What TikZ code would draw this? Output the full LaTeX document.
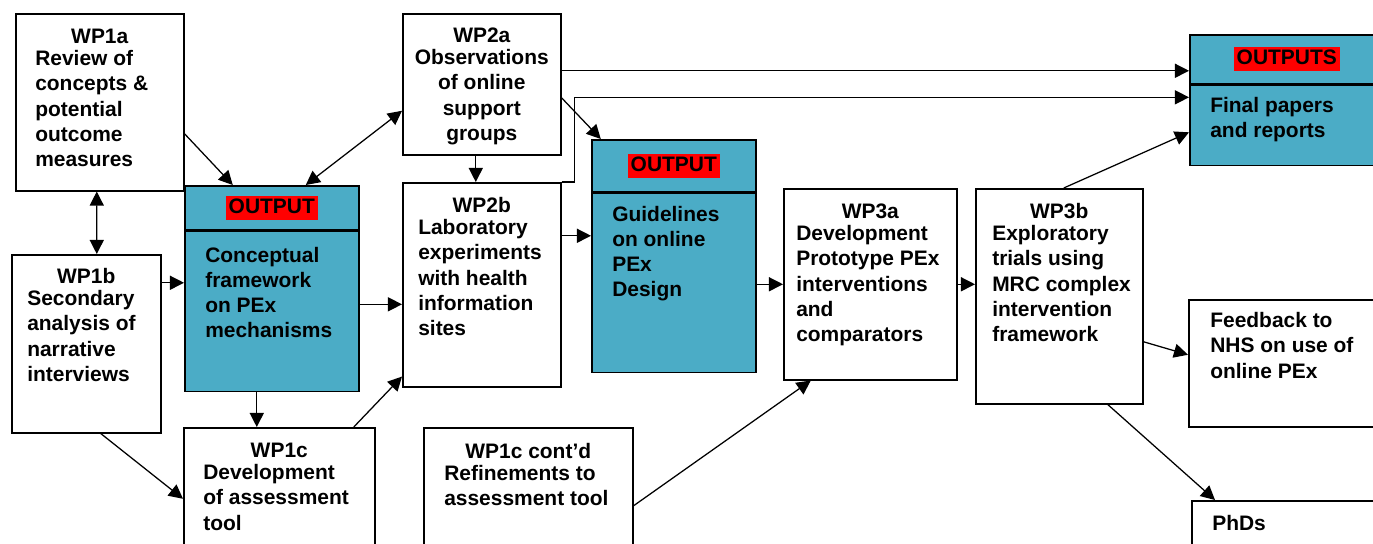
\documentclass[tikz,border=0pt]{standalone}
\usepackage{fontspec}
\setmainfont{Liberation Sans}
\usetikzlibrary{arrows.meta}
\newcommand{\pxu}{0.025cm}
\newcommand{\wpfont}{\fontsize{14.9}{17.8}\selectfont\bfseries}
\definecolor{outteal}{HTML}{4BACC6}
\tikzset{
    wpbox/.style 2 args={draw, line width=1.1pt, minimum width=#1*\pxu,
        minimum height=#2*\pxu, anchor=north west, inner sep=0pt},
    outbox/.style 2 args={wpbox={#1}{#2}, fill=outteal},
    wptitle/.style={anchor=north, inner sep=0pt, font=\wpfont,
        execute at begin node=\strut},
    wptext/.style={anchor=north west, align=left, inner sep=0pt,
        font=\wpfont, execute at begin node=\strut},
    hilite/.style={fill=red, inner xsep=2pt, inner ysep=0pt,
        text height=12.5pt, text depth=4.5pt, font=\wpfont},
    link/.style={line width=0.9pt, -{Triangle[length=10pt,width=10pt]}},
    dlink/.style={line width=0.9pt,
        {Triangle[length=10pt,width=10pt]}-{Triangle[length=10pt,width=10pt]}}
}

\begin{document}
\begin{tikzpicture}[x=\pxu, y=-\pxu]
    \useasboundingbox (0,0) rectangle (1373,544);
    \clip (0,0) rectangle (1373,544);
    % WP1
    \node[wpbox={168}{177}] (wp1a) at (15,13) {};
    \node[wptitle] (wp1a-t) at ([shift={(0,12.5)}]wp1a.north) {WP1a};
    \node[wptext] (wp1a-b) at ([shift={(20,37.5)}]wp1a.north west)
        {Review of\\concepts \&\\potential\\outcome\\measures};
    \node[wpbox={149}{178}] (wp1b) at (11,254) {};
    \node[wptitle] (wp1b-t) at ([shift={(0,11.5)}]wp1b.north) {WP1b};
    \node[wptext] (wp1b-b) at ([shift={(16,36.5)}]wp1b.north west)
        {Secondary\\analysis of\\narrative\\interviews};
    \node[wpbox={191}{130}] (wp1c) at (183,427) {};
    \node[wptitle] (wp1c-t) at ([shift={(0,12.5)}]wp1c.north) {WP1c};
    \node[wptext] (wp1c-b) at ([shift={(20,37.5)}]wp1c.north west)
        {Development\\of assessment\\tool};
    % Conceptual framework output
    \node[outbox={174}{44}] (out1-h) at (184,185) {};
    \node[outbox={174}{160}] (out1) at (out1-h.south west) {};
    \node[hilite] (out1-l) at (out1-h.center) {OUTPUT};
    \node[wptext] (out1-b) at ([shift={(21,16.5)}]out1.north west)
        {Conceptual\\framework\\on PEx\\mechanisms};
    % WP2
    \node[wpbox={158}{141}] (wp2a) at (402,13) {};
    \node[wptitle] (wp2a-t) at ([shift={(0,11.5)}]wp2a.north) {WP2a};
    \node[wptitle, align=center] (wp2a-b) at ([shift={(0,36.5)}]wp2a.north)
        {Observations\\of online\\support\\groups};
    \node[wpbox={158}{204}] (wp2b) at (402,182) {};
    \node[wptitle] (wp2b-t) at ([shift={(0,12.5)}]wp2b.north) {WP2b};
    \node[wptext] (wp2b-b) at ([shift={(16,37.5)}]wp2b.north west)
        {Laboratory\\experiments\\with health\\information\\sites};
    % Guidelines output
    \node[outbox={164}{52}] (out2-h) at (591,139) {};
    \node[outbox={164}{179}] (out2) at (out2-h.south west) {};
    \node[hilite] (out2-l) at (out2-h.center) {OUTPUT};
    \node[wptext] (out2-b) at ([shift={(21,13.5)}]out2.north west)
        {Guidelines\\on online\\PEx\\Design};
    \node[wpbox={209}{130}] (wp1cc) at (423,427) {};
    \node[wptitle] (wp1cc-t) at ([shift={(0,13.5)}]wp1cc.north) {WP1c cont’d};
    \node[wptext] (wp1cc-b) at ([shift={(21,38.5)}]wp1cc.north west)
        {Refinements to\\assessment tool};
    % WP3
    \node[wpbox={173}{191}] (wp3a) at (783,188) {};
    \node[wptitle] (wp3a-t) at ([shift={(0,12.5)}]wp3a.north) {WP3a};
    \node[wptext] (wp3a-b) at ([shift={(13,37.5)}]wp3a.north west)
        {Development\\Prototype PEx\\interventions\\and\\comparators};
    \node[wpbox={167}{215}] (wp3b) at (975,188) {};
    \node[wptitle] (wp3b-t) at ([shift={(0,12.5)}]wp3b.north) {WP3b};
    \node[wptext] (wp3b-b) at ([shift={(17,37.5)}]wp3b.north west)
        {Exploratory\\trials using\\MRC complex\\intervention\\framework};
    % final outputs
    \node[outbox={201}{49}] (outs-h) at (1189,34) {};
    \node[outbox={201}{80}] (outs) at (outs-h.south west) {};
    \node[hilite] (outs-l) at ([shift={(-3.5,0)}]outs-h.center) {OUTPUTS};
    \node[wptext] (outs-b) at ([shift={(21,12.5)}]outs.north west)
        {Final papers\\and reports};
    \node[wpbox={202}{127}] (fdbk) at (1188,299) {};
    \node[wptext] (fdbk-b) at ([shift={(22,13.5)}]fdbk.north west)
        {Feedback to\\NHS on use of\\online PEx};
    \node[wpbox={199}{60}] (phds) at (1191,500) {};
    \node[wptext] (phds-b) at ([shift={(21,12.5)}]phds.north west) {PhDs};
    % Links
    \draw[dlink] ([shift={(-3,0)}]wp1a.south) -- ([shift={(10.5,0)}]wp1b.north);
    \draw[link] ([shift={(0,31.5)}]wp1a.east) -- ([shift={(-39,0)}]out1-h.north);
    \draw[dlink] ([shift={(34,0)}]out1-h.north) -- ([shift={(0,26.5)}]wp2a.west);
    \draw[link] ([shift={(0,-61)}]wp1b.east) coordinate (s1) -- (s1 -| out1.west);
    \draw[link] ([shift={(0,-7)}]out1.east) coordinate (s2) -- (s2 -| wp2b.west);
    \draw[link] ([shift={(-15,0)}]out1.south) coordinate (s3) -- (s3 |- wp1c.north);
    \draw[link] ([shift={(14.5,0)}]wp1b.south) -- ([shift={(0,6)}]wp1c.west);
    \draw[link] ([shift={(74.5,0)}]wp1c.north) -- ([shift={(0,-11)}]wp2b.south west);
    \draw[link] ([shift={(-6,0)}]wp2a.south) coordinate (s4) -- (s4 |- wp2b.north);
    \draw[link] ([shift={(0,-13.5)}]wp2a.east) coordinate (s5) -- (s5 -| outs-h.west);
    \draw[link] (wp2b.north east) -- ++(13,0) |- ([shift={(0,-28)}]outs.west);
    \draw[link] ([shift={(0,13.5)}]wp2a.east) -- ([shift={(-73,0)}]out2-h.north);
    \draw[link] ([shift={(0,-49)}]wp2b.east) coordinate (s6) -- (s6 -| out2.west);
    \draw[link] (wp3a.west -| out2.east) -- (wp3a.west);
    \draw[link] ([shift={(0,13)}]wp1cc.east) -- ([shift={(-59.5,0)}]wp3a.south);
    \draw[link] (wp3a.east) -- (wp3a.east -| wp3b.west);
    \draw[link] ([shift={(4.5,0)}]wp3b.north) -- ([shift={(0,7)}]outs.west);
    \draw[link] ([shift={(0,45.5)}]wp3b.east) -- ([shift={(0,-8.5)}]fdbk.west);
    \draw[link] ([shift={(48.5,0)}]wp3b.south) -- ([shift={(24,0)}]phds.north west);
\end{tikzpicture}
\end{document}
